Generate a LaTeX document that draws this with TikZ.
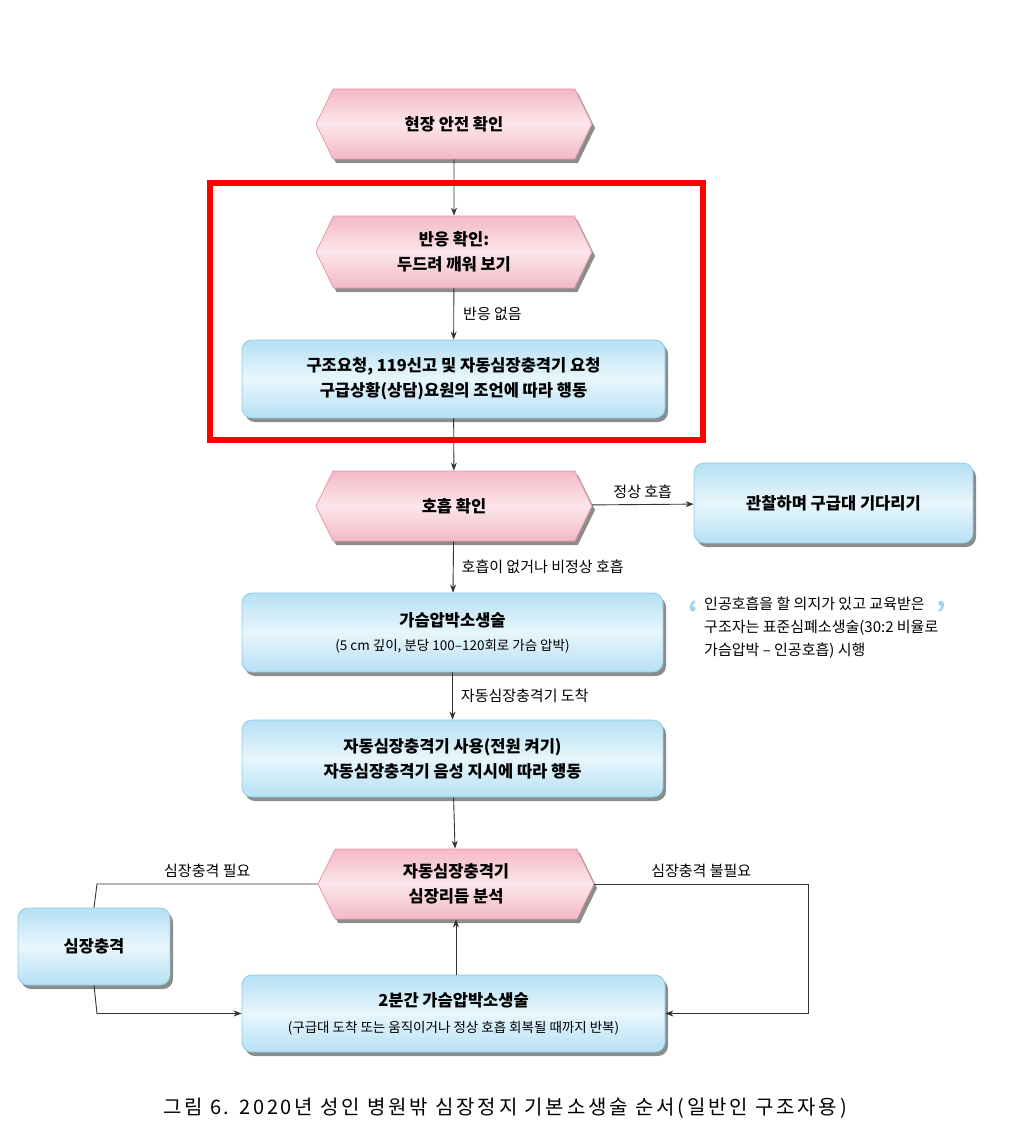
\documentclass[tikz,border=0pt]{standalone}
\usepackage{fontspec}
\setmainfont{Noto Sans CJK KR}
\usetikzlibrary{shapes.symbols,shadows,arrows.meta}
\definecolor{pinkedge}{HTML}{E29AAA}
\definecolor{pinkdark}{HTML}{F3B9C5}
\definecolor{pinkmid}{HTML}{FCE6EB}
\definecolor{blueedge}{HTML}{8FCBE8}
\definecolor{bluedark}{HTML}{B6E0F4}
\definecolor{bluemid}{HTML}{E8F6FC}
\definecolor{quoteblue}{HTML}{9FD3EE}
\definecolor{linegray}{HTML}{333333}
\tikzset{
  hexbox/.style={signal, signal to=west and east, signal pointer angle=128,
    draw=pinkedge, line width=0.8pt, top color=pinkdark, bottom color=pinkdark, middle color=pinkmid,
    minimum width=276pt, minimum height=70pt, inner sep=0pt, align=center,
    font=\fontsize{16.5}{25}\selectfont\bfseries,
    drop shadow={shadow xshift=3pt, shadow yshift=-4pt, fill=black, opacity=0.45}},
  bluebox/.style={rectangle, rounded corners=10pt,
    draw=blueedge, line width=0.8pt, top color=bluedark, bottom color=bluedark, middle color=bluemid,
    minimum width=423pt, minimum height=78pt, inner sep=0pt, align=center,
    font=\fontsize{16.5}{25}\selectfont\bfseries,
    drop shadow={shadow xshift=3pt, shadow yshift=-4pt, fill=black, opacity=0.45}},
  conn/.style={draw=linegray, line width=0.9pt},
  arr/.style={conn, -{Stealth[length=8pt,width=6pt]}},
  lbl/.style={font=\fontsize{15}{18}\selectfont, text=black, inner sep=2pt}
}
\newcommand{\smallline}[2]{{\fontsize{#1}{17}\selectfont\mdseries #2}}
\begin{document}
\begin{tikzpicture}[x=1pt,y=-1pt]
\useasboundingbox (0,0) rectangle (1020,1129);
\fill[white] (0,0) rectangle (1020,1129);

\node[hexbox] (h1) at (454,124) {현장 안전 확인};
\node[hexbox, minimum height=72pt] (h2) at (454,252) {반응 확인:\\두드려 깨워 보기};
\node[bluebox] (b1) at (453.5,379) {구조요청, 119신고 및 자동심장충격기 요청\\구급상황(상담)요원의 조언에 따라 행동};
\node[hexbox] (h3) at (454,506) {호흡 확인};
\node[bluebox, minimum width=279pt, minimum height=80pt] (obs) at (833.5,503) {관찰하며 구급대 기다리기};
\node[bluebox, minimum width=421pt, minimum height=79pt] (cpr) at (452.5,632.5) {가슴압박소생술\\[-1pt]\smallline{13.5}{(5 cm 깊이, 분당 100–120회로 가슴 압박)}};
\node[bluebox, minimum width=421pt, minimum height=77pt] (aed) at (452.5,758.5) {자동심장충격기 사용(전원 켜기)\\자동심장충격기 음성 지시에 따라 행동};
\node[hexbox] (h4) at (456,884) {자동심장충격기\\심장리듬 분석};
\node[bluebox, minimum width=152pt, minimum height=77pt] (shock) at (94,946.5) {심장충격};
\node[bluebox, minimum width=423pt, minimum height=77pt] (cpr2) at (453.5,1013.5) {2분간 가슴압박소생술\\[1pt]\smallline{13.5}{(구급대 도착 또는 움직이거나 정상 호흡 회복될 때까지 반복)}};

\node[anchor=north west, align=left, font=\fontsize{15}{23}\selectfont, inner sep=0pt] (note) at (704,597)
  {인공호흡을 할 의지가 있고 교육받은\\구조자는 표준심폐소생술(30:2 비율로\\가슴압박 – 인공호흡) 시행};
\node[text=quoteblue, font=\fontsize{28}{28}\selectfont\bfseries, inner sep=0pt] (q1) at (693,612) {‘};
\node[text=quoteblue, font=\fontsize{28}{28}\selectfont\bfseries, inner sep=0pt] (q2) at (941,612) {’};

\coordinate (lc) at (97,884);
\coordinate (lb) at (97,1013.5);
\coordinate (rc) at (808,884);
\coordinate (rb) at (808,1013.5);

\draw[arr] (h1) -- (h2);
\draw[arr] (h2) -- node[lbl, right=7pt]{반응 없음} (b1);
\draw[arr] (b1) -- (h3);
\draw[arr] (h3) -- node[lbl, above, yshift=3pt]{정상 호흡} (obs);
\draw[arr] (h3) -- node[lbl, right=6pt]{호흡이 없거나 비정상 호흡} (cpr);
\draw[arr] (cpr) -- node[lbl, right=6pt]{자동심장충격기 도착} (aed);
\draw[arr] (aed) -- (h4);
\draw[conn] (h4.west) -- node[lbl, above, yshift=4pt]{심장충격 필요} (lc) -- (shock.north);
\draw[arr] (shock.south) -- (lb) -- (cpr2.west);
\draw[arr] (h4.east) -- node[lbl, above, yshift=4pt]{심장충격 불필요} (rc) -- (rb) -- (cpr2.east);
\draw[arr] (cpr2.north -| h4.south) -- (h4.south);

\draw[red, line width=6pt] (210,183) rectangle (703,440);

\node[font=\fontsize{20}{22}\selectfont\addfontfeatures{LetterSpace=14}, inner sep=0pt] (cap) at (505,1108) {그림 6. 2020년 성인 병원밖 심장정지 기본소생술 순서(일반인 구조자용)};
\end{tikzpicture}
\end{document}
